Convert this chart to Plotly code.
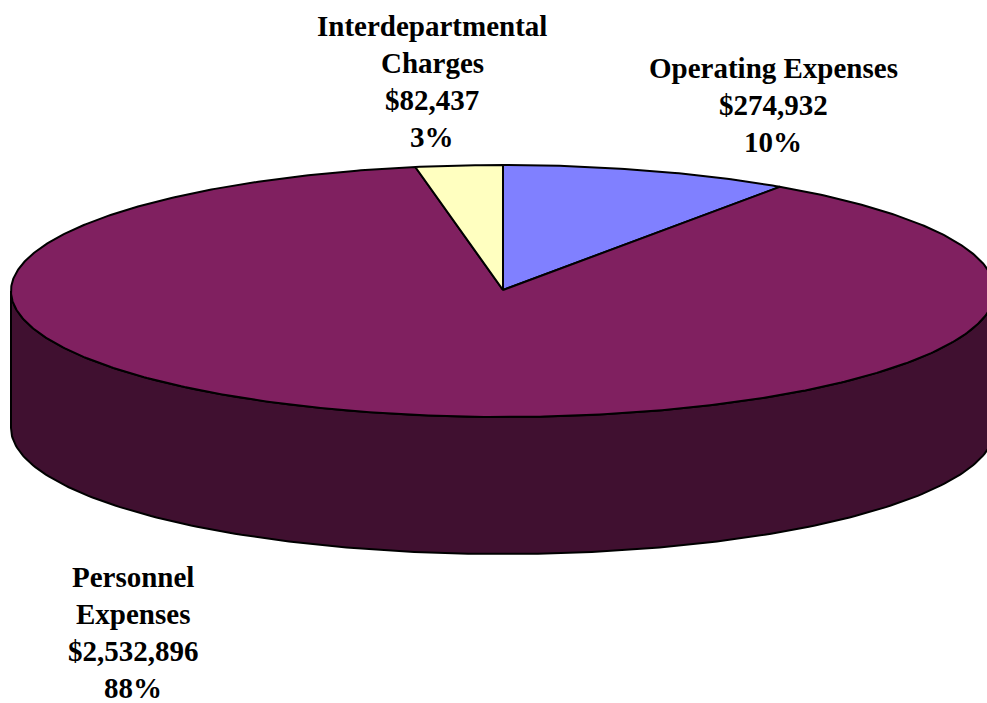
import numpy as np
import plotly.graph_objects as go

# Budget breakdown
categories = ["Operating Expenses", "Personnel Expenses", "Interdepartmental Charges"]
label_lines = [["Operating Expenses"], ["Personnel", "Expenses"], ["Interdepartmental", "Charges"]]
amounts = [274932, 2532896, 82437]
top_colors = ["#8080FF", "#802060", "#FFFFC0"]
side_colors = ["#404080", "#401030", "#808060"]

W, H = 987, 703
cx, cy = 503, 291          # centre of the top face
rx, ry = 492, 126          # ellipse radii
depth = 137                # thickness of the pie


def ell(theta_deg, dy=0.0):
    """Point on the ellipse; angle measured clockwise from 12 o'clock."""
    t = np.radians(theta_deg)
    return cx + rx * np.sin(t), cy - ry * np.cos(t) + dy


total = sum(amounts)
fracs = [a / total for a in amounts]

# slice angle spans, starting at 12 o'clock, going clockwise
spans = []
start = 0.0
for f in fracs:
    spans.append((start, start + 360 * f))
    start += 360 * f

fig = go.Figure()

# Visible side wall: front half of the pie (from 3 o'clock to 9 o'clock through 6)
for (a0, a1), col in zip(spans, side_colors):
    lo, hi = max(a0, 90), min(a1, 270)
    if hi <= lo:
        continue
    th = np.linspace(lo, hi, 200)
    xt, yt = ell(th)
    xb, yb = ell(th[::-1], depth)
    fig.add_trace(go.Scatter(
        x=np.concatenate([xt, xb, xt[:1]]), y=np.concatenate([yt, yb, yt[:1]]),
        mode="lines", fill="toself", fillcolor=col,
        line=dict(color="black", width=2), hoverinfo="skip", showlegend=False))

# Top face slices
for (a0, a1), col, name in zip(spans, top_colors, categories):
    th = np.linspace(a0, a1, max(int((a1 - a0) * 2), 20))
    xs, ys = ell(th)
    fig.add_trace(go.Scatter(
        x=np.concatenate([[cx], xs, [cx]]), y=np.concatenate([[cy - 1], ys, [cy - 1]]),
        mode="lines", fill="toself", fillcolor=col, name=name,
        line=dict(color="black", width=2), hoverinfo="skip", showlegend=False))

# Data labels: name lines, amount, percentage
label_pos = {
    "Operating Expenses": (773, 68),
    "Personnel Expenses": (133, 577),
    "Interdepartmental Charges": (432, 26),
}
line_step = 37
for name, lines, amt, f in zip(categories, label_lines, amounts, fracs):
    x0, y0 = label_pos[name]
    texts = lines + [f"${amt:,}", f"{round(f * 100):.0f}%"]
    for i, t in enumerate(texts):
        fig.add_annotation(x=x0, y=y0 + i * line_step, text=t, showarrow=False,
                           xanchor="center", yanchor="middle",
                           font=dict(family="Liberation Serif, Times New Roman, serif",
                                     size=29, color="black", weight="bold"))

fig.update_xaxes(range=[0, W], visible=False, fixedrange=True)
fig.update_yaxes(range=[H, 0], visible=False, fixedrange=True)
fig.update_layout(width=W, height=H, margin=dict(l=0, r=0, t=0, b=0),
                  plot_bgcolor="white", paper_bgcolor="white")

fig.write_html("out.html")
